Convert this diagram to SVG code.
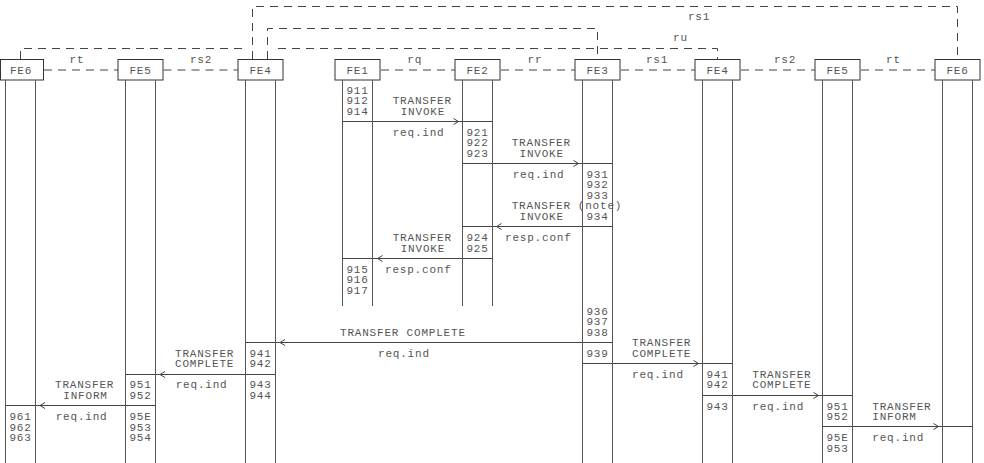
<svg xmlns="http://www.w3.org/2000/svg" width="984" height="463" viewBox="0 0 984 463">
<style>
.box{fill:#fff;stroke:#333;stroke-width:1}
.ll{stroke:#555;stroke-width:1;fill:none}
.msg{stroke:#444;stroke-width:1;fill:none}
.dash{stroke:#444;stroke-width:1;fill:none;stroke-dasharray:8 6}
text{font-family:"Liberation Mono","DejaVu Sans Mono",monospace;font-size:11px;letter-spacing:0.8px;fill:#555}
.c{text-anchor:middle}
</style>
<rect width="984" height="463" fill="#fff"/>
<g id="connectors">
<path class="dash" d="M44,70H118M163.5,70H238M381,70H455M501,70H575M621,70H695M741,70H815M861,70H935"/>
<path class="dash" d="M20.5,59V48.5H244M278,48.5H717.5V59"/>
<path class="dash" d="M252.5,59V6.5H957.5V59"/>
<path class="dash" d="M267.5,59V28.5H597.5V59"/>
<path class="msg" d="M342.5,121.5H492.5M462.5,163.5H612.5M612.5,226.5H462.5M492.5,258.5H342.5M612.5,342.5H245.5M275.5,374.5H125.5M155.5,405.5H5.5M582.5,363.5H732.5M702.5,395.5H852.5M822.5,426.5H972.5"/>
<path class="msg" d="M453.5,118.5L458.5,121.5L453.5,124.5M573.5,160.5L578.5,163.5L573.5,166.5M693.5,360.5L698.5,363.5L693.5,366.5M813.5,392.5L818.5,395.5L813.5,398.5M933.5,423.5L938.5,426.5L933.5,429.5M501.5,223.5L496.5,226.5L501.5,229.5M382.5,255.5L377.5,258.5L382.5,261.5M285,339.5L280,342.5L285,345.5M165,371.5L160,374.5L165,377.5M45,402.5L40,405.5L45,408.5"/>
<text x="77" y="63" class="c">rt</text>
<text x="201" y="63" class="c">rs2</text>
<text x="414.7" y="63" class="c">rq</text>
<text x="535" y="63" class="c">rr</text>
<text x="657" y="63" class="c">rs1</text>
<text x="785" y="63" class="c">rs2</text>
<text x="893.5" y="63" class="c">rt</text>
<text x="699" y="20" class="c">rs1</text>
<text x="680.5" y="41" class="c">ru</text>
<text x="392.7" y="104.1">TRANSFER</text>
<text x="400.7" y="114.7">INVOKE</text>
<text x="392.7" y="135.7">req.ind</text>
<text x="511.7" y="146.3">TRANSFER</text>
<text x="519.5" y="156.8">INVOKE</text>
<text x="512.7" y="177.8">req.ind</text>
<text x="511.7" y="209.4">TRANSFER</text>
<text x="519.5" y="220">INVOKE</text>
<text x="505" y="241">resp.conf</text>
<text x="392.7" y="241">TRANSFER</text>
<text x="400.7" y="251.6">INVOKE</text>
<text x="385" y="272.6">resp.conf</text>
<text x="340" y="335.8">TRANSFER COMPLETE</text>
<text x="378" y="356.9">req.ind</text>
<text x="175" y="356.9">TRANSFER</text>
<text x="175" y="367.4">COMPLETE</text>
<text x="175.7" y="388.4">req.ind</text>
<text x="55" y="388.4">TRANSFER</text>
<text x="63.3" y="399">INFORM</text>
<text x="55.7" y="420">req.ind</text>
<text x="632" y="346.3">TRANSFER</text>
<text x="632" y="356.9">COMPLETE</text>
<text x="632" y="377.9">req.ind</text>
<text x="752.3" y="377.9">TRANSFER</text>
<text x="752.3" y="388.4">COMPLETE</text>
<text x="752.3" y="409.5">req.ind</text>
<text x="872.3" y="409.5">TRANSFER</text>
<text x="872.3" y="420">INFORM</text>
<text x="872.3" y="441.1">req.ind</text>
</g>
<g id="FE6-left">
<rect class="box" x="0.5" y="59.5" width="43" height="20.5"/>
<text x="21" y="74" class="c">FE6</text>
<path class="ll" d="M5.5,80V463M35.5,80V463"/>
<text x="20.5" y="420" class="c">961</text>
<text x="20.5" y="430.6" class="c">962</text>
<text x="20.5" y="441.1" class="c">963</text>
</g>
<g id="FE5-left">
<rect class="box" x="118" y="59.5" width="45" height="20.5"/>
<text x="140.5" y="74" class="c">FE5</text>
<path class="ll" d="M125.5,80V463M155.5,80V463"/>
<text x="140.5" y="388.4" class="c">951</text>
<text x="140.5" y="399" class="c">952</text>
<text x="140.5" y="420" class="c">95E</text>
<text x="140.5" y="430.6" class="c">953</text>
<text x="140.5" y="441.1" class="c">954</text>
</g>
<g id="FE4-left">
<rect class="box" x="238" y="59.5" width="45" height="20.5"/>
<text x="260.5" y="74" class="c">FE4</text>
<path class="ll" d="M245.5,80V463M275.5,80V463"/>
<text x="260.5" y="356.9" class="c">941</text>
<text x="260.5" y="367.4" class="c">942</text>
<text x="260.5" y="388.4" class="c">943</text>
<text x="260.5" y="399" class="c">944</text>
</g>
<g id="FE1">
<rect class="box" x="335" y="59.5" width="45" height="20.5"/>
<text x="357.5" y="74" class="c">FE1</text>
<path class="ll" d="M342.5,80V306M372.5,80V306"/>
<text x="357.5" y="93.6" class="c">911</text>
<text x="357.5" y="104.1" class="c">912</text>
<text x="357.5" y="114.7" class="c">914</text>
<text x="357.5" y="272.6" class="c">915</text>
<text x="357.5" y="283.1" class="c">916</text>
<text x="357.5" y="293.7" class="c">917</text>
</g>
<g id="FE2">
<rect class="box" x="455" y="59.5" width="45" height="20.5"/>
<text x="477.5" y="74" class="c">FE2</text>
<path class="ll" d="M462.5,80V306M492.5,80V306"/>
<text x="477.5" y="135.7" class="c">921</text>
<text x="477.5" y="146.3" class="c">922</text>
<text x="477.5" y="156.8" class="c">923</text>
<text x="477.5" y="241" class="c">924</text>
<text x="477.5" y="251.6" class="c">925</text>
</g>
<g id="FE3">
<rect class="box" x="575" y="59.5" width="45" height="20.5"/>
<text x="597.5" y="74" class="c">FE3</text>
<path class="ll" d="M582.5,80V463M612.5,80V463"/>
<text x="597.5" y="177.8" class="c">931</text>
<text x="597.5" y="188.4" class="c">932</text>
<text x="597.5" y="198.9" class="c">933</text>
<text x="600" y="209.4" class="c">(note)</text>
<text x="597.5" y="220" class="c">934</text>
<text x="597.5" y="314.7" class="c">936</text>
<text x="597.5" y="325.3" class="c">937</text>
<text x="597.5" y="335.8" class="c">938</text>
<text x="597.5" y="356.9" class="c">939</text>
</g>
<g id="FE4-right">
<rect class="box" x="695" y="59.5" width="45" height="20.5"/>
<text x="717.5" y="74" class="c">FE4</text>
<path class="ll" d="M702.5,80V463M732.5,80V463"/>
<text x="717.5" y="377.9" class="c">941</text>
<text x="717.5" y="388.4" class="c">942</text>
<text x="717.5" y="409.5" class="c">943</text>
</g>
<g id="FE5-right">
<rect class="box" x="815" y="59.5" width="45" height="20.5"/>
<text x="837.5" y="74" class="c">FE5</text>
<path class="ll" d="M822.5,80V463M852.5,80V463"/>
<text x="837.5" y="409.5" class="c">951</text>
<text x="837.5" y="420" class="c">952</text>
<text x="837.5" y="441.1" class="c">95E</text>
<text x="837.5" y="451.6" class="c">953</text>
</g>
<g id="FE6-right">
<rect class="box" x="935" y="59.5" width="45" height="20.5"/>
<text x="957.5" y="74" class="c">FE6</text>
<path class="ll" d="M942.5,80V463M972.5,80V463"/>
</g>
</svg>
